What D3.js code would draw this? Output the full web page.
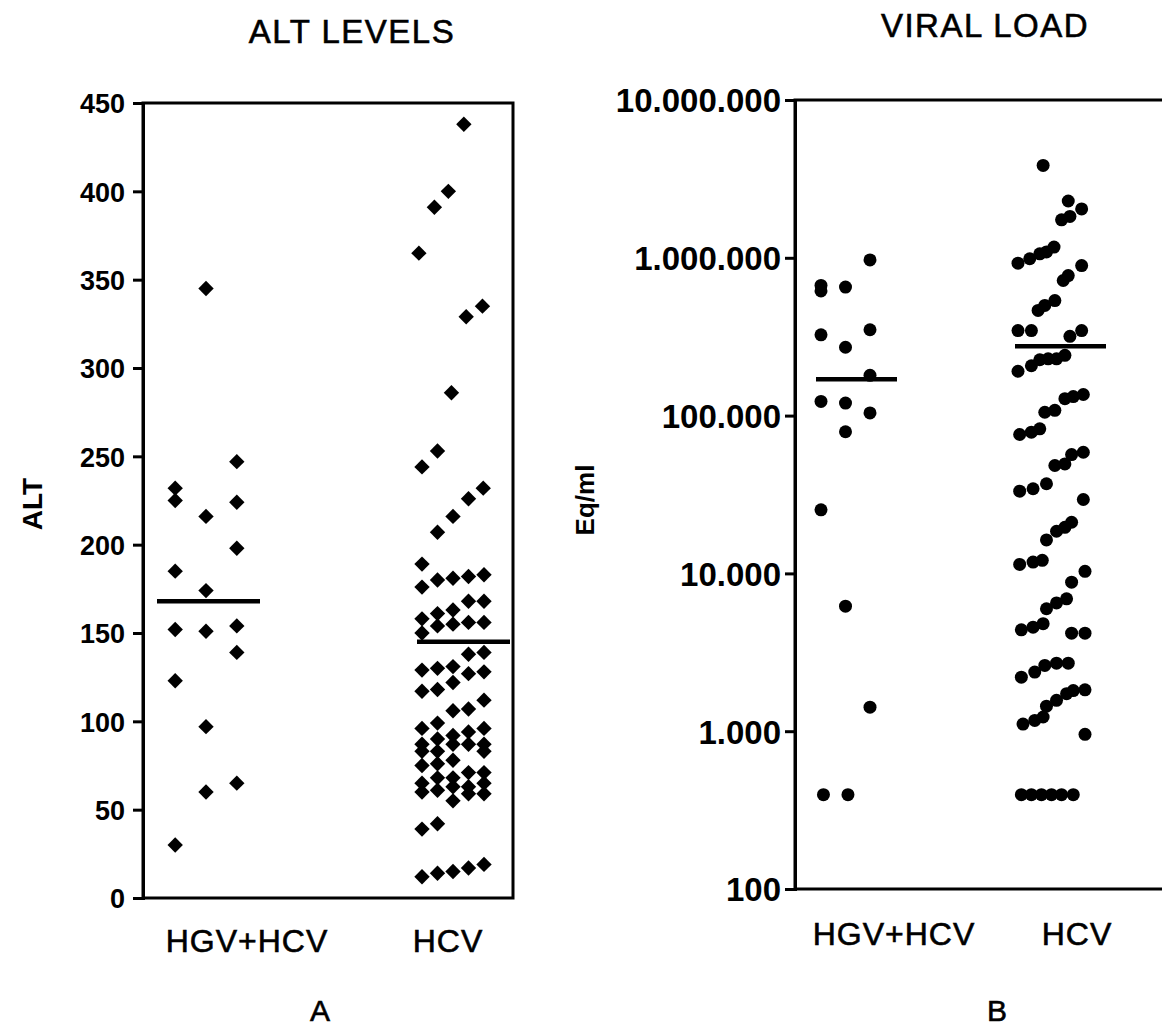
<!DOCTYPE html>
<html>
<head>
<meta charset="utf-8">
<script src="https://cdn.jsdelivr.net/npm/d3@7/dist/d3.min.js"></script>
<style>
  html, body { margin: 0; padding: 0; background: #fff; }
  svg { display: block; }
  text { font-family: "Liberation Sans", Arial, Helvetica, sans-serif; fill: #000; }
</style>
</head>
<body>
<svg id="chart" width="1162" height="1029"></svg>
<script>
// ---------------- DATA ----------------
const categories = ["HGV+HCV", "HCV"];

// Panel A: ALT levels
const altTicks = [0, 50, 100, 150, 200, 250, 300, 350, 400, 450];
const altHgvValues = [232, 225, 185, 152, 123, 30, 345, 216, 174, 151, 97, 60, 247, 224, 198, 154, 139, 65];
const altHgvSlots  = [-1, -1, -1, -1, -1, -1, 0, 0, 0, 0, 0, 0, 1, 1, 1, 1, 1, 1];
const altHcvValues = [438, 400, 391, 365, 335, 329, 286, 253, 244, 232, 226, 216, 207, 189,
  176, 180, 181, 182, 183,
  168, 168,
  163, 161, 158,
  154, 155, 156, 156, 150,
  139, 138,
  129, 130, 131, 127, 128,
  117, 118, 122,
  106, 107, 112,
  96, 99, 92, 94, 96,
  87, 90, 87, 87, 87,
  83, 83, 83,
  75, 76, 78,
  71, 71,
  65, 60, 68, 61, 68, 63, 63, 59, 65, 59,
  55,
  39, 42,
  12, 14, 15, 17, 19];
const altHcvSlots = [0.7, -0.3, -1.2, -2.2, 1.9, 0.85, -0.1, -1, -2, 1.95, 1, 0, -1, -2,
  -2, -1, 0, 1, 2,
  1, 2,
  0, -1, -2,
  -1, 0, 1, 2, -2,
  2, 1,
  -2, -1, 0, 1, 2,
  -2, -1, 0,
  0, 1, 2,
  -2, -1, 0, 1, 2,
  -2, -1, 0, 1, 2,
  -2, -1, 2,
  -2, -1, 0,
  1, 2,
  -2, -2, -1, -1, 0, 0, 1, 1, 2, 2,
  0,
  -2, -1,
  -2, -1, 0, 1, 2];
const altMedians = [168, 145];

// Panel B: viral load (Eq/ml)
const viralTicks = [100, 1000, 10000, 100000, 1000000, 10000000];
const viralTickLabels = ["100", "1.000", "10.000", "100.000", "1.000.000", "10.000.000"];
const viralHgvValues = [668000, 617000, 652000, 970000, 325000, 350000, 271000, 180000, 123000, 120000, 104000, 79000, 25300, 6200, 1420, 396, 396];
const viralHgvSlots  = [-1, -1, 0, 1, -1, 1, 0, 1, -1, 0, 1, 0, -1, 0, 1, -0.9, 0.1];
const viralHcvValues = [3850000, 2290000, 2040000, 1740000, 1830000,
  925000, 986000, 1060000, 1090000, 1170000, 893000, 772000, 718000,
  536000, 499000, 464000, 346000, 346000, 346000, 318000,
  191000, 207000, 226000, 229000, 229000, 241000,
  136000, 132000, 128000, 108000, 105000,
  82500, 78500, 75900,
  58600, 56600, 49400, 48300,
  37000, 34400, 33200, 29400,
  21100, 19600, 18500, 16300,
  11400, 11800, 12100, 10300, 8800,
  6900, 6500, 5970,
  4390, 4560, 4800, 4180, 4180,
  2200, 2370, 2610, 2700, 2700,
  1830, 1810, 1730, 1570, 1440, 1230, 1170, 1110, 955,
  396, 396, 396, 396, 396, 396];
const viralHcvSlots = [-0.5, 1.0, 1.8, 0.6, 1.1,
  -2.0, -1.3, -0.7, -0.3, 0.15, 1.8, 1.0, 0.7,
  0.2, -0.4, -0.8, -2.0, -1.2, 1.8, 1.1,
  -2.0, -1.2, -0.7, -0.2, 0.3, 0.8,
  1.9, 1.3, 0.8, 0.2, -0.4,
  -0.7, -1.2, -1.9,
  1.9, 1.2, 0.8, 0.2,
  -0.3, -1.1, -1.9, 1.9,
  1.2, 0.8, 0.3, -0.3,
  -1.9, -1.1, -0.55, 2.0, 1.2,
  0.9, 0.3, -0.3,
  -1.8, -1.1, -0.5, 1.2, 2.0,
  -1.8, -1.0, -0.4, 0.3, 1.0,
  2.0, 1.3, 0.9, 0.3, -0.3, -0.5, -1.0, -1.7, 2.0,
  -1.8, -1.2, -0.6, 0.0, 0.6, 1.3];
const viralMedians = [170000, 275000];

// ---------------- DRAW ----------------
const svg = d3.select("#chart");
svg.append("rect").attr("width", 1162).attr("height", 1029).attr("fill", "#fff");
const FONT = '"Liberation Sans", Arial, Helvetica, sans-serif';

function zip(vals, slots) { return vals.map((v, i) => ({ v, s: slots[i] })); }

function drawPanel(cfg) {
  const g = svg.append("g");
  const y = cfg.y;
  const xLabel = d3.scalePoint().domain(categories).range(cfg.labelRange);

  // frame
  const b = cfg.box;
  g.append("path")
    .attr("d", `M${b.l},${b.t}H${b.r}V${b.b}H${b.l}Z`)
    .attr("fill", "none").attr("stroke", "#000").attr("stroke-width", 3);

  // y axis
  const ax = d3.axisLeft(y).tickValues(cfg.ticks).tickSize(10).tickPadding(cfg.tickPad)
    .tickFormat((d, i) => cfg.tickLabels[i]);
  const axG = g.append("g").attr("transform", `translate(${b.l},0)`).call(ax);
  axG.select(".domain").attr("stroke", "#000").attr("stroke-width", 3);
  axG.selectAll(".tick line").attr("stroke", "#000").attr("stroke-width", 3);
  axG.selectAll(".tick text").attr("font-family", FONT).attr("font-weight", "bold")
    .attr("font-size", cfg.tickFont).attr("fill", "#000").attr("dy", "0.36em");

  // category labels
  categories.forEach(c => {
    g.append("text").attr("x", xLabel(c)).attr("y", cfg.catY)
      .attr("text-anchor", "middle").attr("font-size", 32).attr("letter-spacing", 1)
      .attr("stroke", "#000").attr("stroke-width", 0.6)
      .text(c);
  });

  // points
  cfg.groups.forEach((grp, gi) => {
    const pts = zip(grp.values, grp.slots);
    const px = d => grp.center + d.s * grp.spacing;
    if (cfg.marker === "diamond") {
      const sym = d3.symbol().type(d3.symbolSquare).size(118);
      g.selectAll(null).data(pts).enter().append("path")
        .attr("d", sym)
        .attr("transform", d => `translate(${px(d)},${y(d.v)}) rotate(45)`)
        .attr("fill", "#000");
    } else {
      g.selectAll(null).data(pts).enter().append("circle")
        .attr("cx", px).attr("cy", d => y(d.v)).attr("r", 6.5)
        .attr("fill", "#000");
    }
    g.append("line")
      .attr("x1", grp.lineFrom).attr("x2", grp.lineTo)
      .attr("y1", y(cfg.medians[gi])).attr("y2", y(cfg.medians[gi]))
      .attr("stroke", "#000").attr("stroke-width", 4.5);
  });

  // titles
  g.append("text").attr("x", cfg.titleX).attr("y", cfg.titleY)
    .attr("text-anchor", "middle").attr("font-size", 33).attr("letter-spacing", 1.5)
    .attr("stroke", "#000").attr("stroke-width", 0.6)
    .text(cfg.title);
  g.append("text").attr("transform", `translate(${cfg.yLabelX},${cfg.yLabelY}) rotate(-90)`)
    .attr("text-anchor", "middle").attr("font-size", cfg.yLabelFont).attr("font-weight", "bold")
    .text(cfg.yLabel);
  g.append("text").attr("x", cfg.letterX).attr("y", cfg.letterY)
    .attr("text-anchor", "middle").attr("font-size", 30)
    .attr("stroke", "#000").attr("stroke-width", 0.6)
    .text(cfg.letter);
}

// Panel A
const boxA = { l: 143, r: 513, t: 103, b: 898 };
drawPanel({
  box: boxA,
  y: d3.scaleLinear().domain([0, 450]).range([boxA.b, boxA.t]),
  ticks: altTicks,
  tickLabels: altTicks.map(String),
  tickFont: 27, tickPad: 8,
  labelRange: [247, 448],
  catY: 952,
  marker: "diamond",
  medians: altMedians,
  groups: [
    { values: altHgvValues, slots: altHgvSlots, center: 206, spacing: 30.8, lineFrom: 157, lineTo: 260 },
    { values: altHcvValues, slots: altHcvSlots, center: 453, spacing: 15.5, lineFrom: 417, lineTo: 510 }
  ],
  title: "ALT LEVELS", titleX: 352, titleY: 43,
  yLabel: "ALT", yLabelX: 42, yLabelY: 504, yLabelFont: 28,
  letter: "A", letterX: 320, letterY: 1021
});

// Panel B
const boxB = { l: 795, r: 1175, t: 100, b: 889 };
drawPanel({
  box: boxB,
  y: d3.scaleLog().domain([100, 10000000]).range([boxB.b, boxB.t]),
  ticks: viralTicks,
  tickLabels: viralTickLabels,
  tickFont: 33, tickPad: 4,
  labelRange: [894, 1077],
  catY: 945,
  marker: "circle",
  medians: viralMedians,
  groups: [
    { values: viralHgvValues, slots: viralHgvSlots, center: 845.5, spacing: 24.5, lineFrom: 816, lineTo: 897 },
    { values: viralHcvValues, slots: viralHcvSlots, center: 1051.5, spacing: 16.75, lineFrom: 1015, lineTo: 1106 }
  ],
  title: "VIRAL LOAD", titleX: 985, titleY: 37,
  yLabel: "Eq/ml", yLabelX: 594, yLabelY: 500, yLabelFont: 26,
  letter: "B", letterX: 997, letterY: 1021
});
</script>
</body>
</html>
